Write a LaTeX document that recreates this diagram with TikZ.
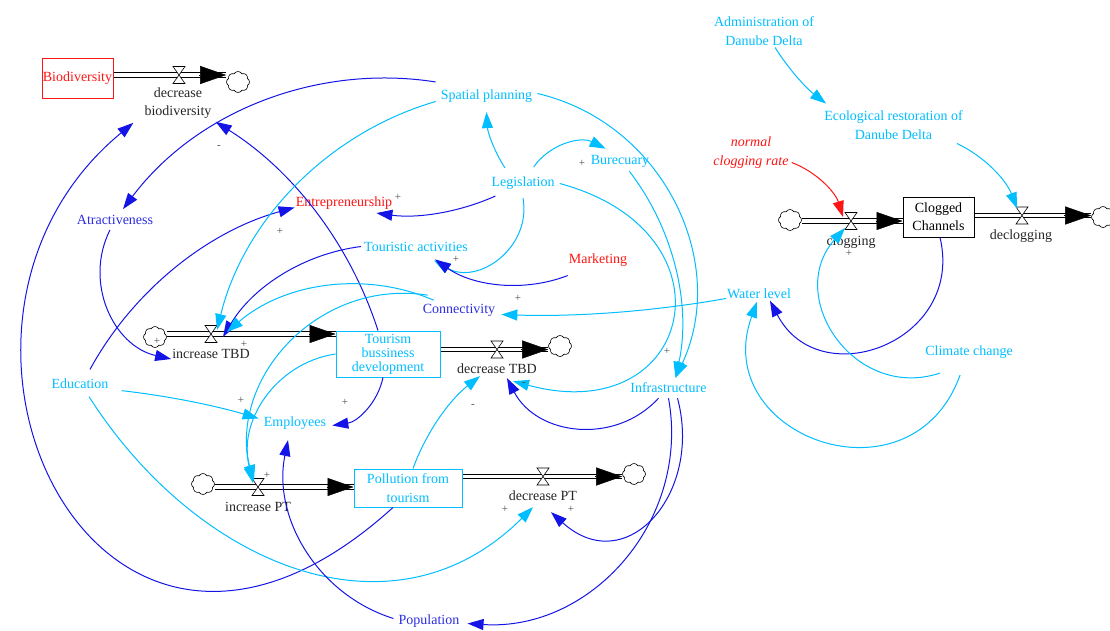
\documentclass[tikz,border=0pt]{standalone}
\usepackage{fontspec}
\setmainfont{Liberation Serif}
\usetikzlibrary{arrows.meta,shapes.symbols,calc}
\definecolor{vcyan}{RGB}{0,190,255}
\definecolor{vblue}{RGB}{20,20,230}
\definecolor{vtblue}{RGB}{45,45,225}
\definecolor{vred}{RGB}{255,20,20}
\pgfdeclarelayer{back}
\pgfdeclarelayer{bg}
\pgfsetlayers{back,bg,main}
\begin{document}
\begin{tikzpicture}[x=1pt,y=1pt,
  lab/.style={font=\fontsize{14}{18.5}\selectfont, inner sep=1pt, align=center},
  cyanlab/.style={lab, text=vcyan},
  bluelab/.style={lab, text=vtblue},
  redlab/.style={lab, text=vred},
  flowlab/.style={lab, text=black!85},
  stockbox/.style={draw, fill=white, line width=0.9, inner sep=0, align=center, font=\fontsize{14}{18.5}\selectfont},
  cloudy/.style={cloud, cloud puffs=8, cloud puff arc=120, aspect=1.1, draw, line width=0.6, minimum width=23, minimum height=21, inner sep=0, fill=white},
  pipe/.style={draw=black, line width=0.9, double=white, double distance=3.8},
  pipetip/.style={line width=0.4, -{Triangle[length=26pt,width=18pt]}},
  lk/.style={line width=1, -{Triangle[length=16pt,width=11pt]}},
  cy/.style={lk, draw=vcyan},
  bl/.style={lk, draw=vblue},
  rd/.style={lk, draw=vred},
  pol/.style={font=\fontsize{11}{11}\selectfont, text=black!70, inner sep=0},
  valve/.pic={\draw[fill=white, line width=0.6] (-6,8.5) -- (6,8.5) -- (-6,-8.5) -- (6,-8.5) -- cycle;}
]
\path[use as bounding box] (0,0) rectangle (1110,-630);
\begin{pgfonlayer}{back}
\fill[white] (0,0) rectangle (1110,-630);
\end{pgfonlayer}

% stocks
\node[stockbox, draw=vred, text=vred, minimum width=71, minimum height=40] (bio) at (77.5,-78) {Biodiversity};
\node[stockbox, draw=vcyan, text=vcyan, minimum width=104, minimum height=46, font=\fontsize{14}{14}\selectfont] (tbd) at (388,-354) {Tourism\\bussiness\\development};
\node[stockbox, draw=vcyan, text=vcyan, minimum width=108, minimum height=38] (pt) at (408,-488) {Pollution from\\tourism};
\node[stockbox, minimum width=71, minimum height=40, font=\fontsize{14}{18}\selectfont] (cc) at (938.5,-217) {Clogged\\Channels};

% valves and clouds
\coordinate (vbio) at (179,-75);
\node[cloudy] (cbio) at (238,-82) {};
\coordinate (vitbd) at (211,-334);
\node[cloudy] (citbd) at (155,-337) {};
\coordinate (vdtbd) at (497,-349.5);
\node[cloudy] (cdtbd) at (560,-346) {};
\coordinate (vipt) at (258,-487);
\node[cloudy] (cipt) at (203,-484) {};
\coordinate (vdpt) at (543,-476.5);
\node[cloudy] (cdpt) at (634,-474) {};
\coordinate (vclog) at (851,-221);
\node[cloudy] (cclog) at (790,-220) {};
\coordinate (vdeclog) at (1022,-215.5);
\node[cloudy] (cdeclog) at (1103,-217) {};

% variables
\node[cyanlab] (spatial) at (486.5,-96.5) {Spatial planning};
\node[cyanlab] (leg) at (523,-183.5) {Legislation};
\node[cyanlab] (bur) at (620,-161) {Burecuary};
\node[redlab] (entre) at (344,-203.5) {Entrepreneurship};
\node[cyanlab] (tour) at (416,-246.5) {Touristic activities};
\node[redlab] (mkt) at (598,-260) {Marketing};
\node[bluelab] (conn) at (459,-310.5) {Connectivity};
\node[bluelab] (atr) at (115,-220) {Atractiveness};
\node[cyanlab] (edu) at (80,-383.5) {Education};
\node[cyanlab] (emp) at (295,-423.5) {Employees};
\node[cyanlab] (infra) at (668.5,-388) {Infrastructure};
\node[cyanlab] (water) at (759,-293.5) {Water level};
\node[cyanlab] (climate) at (969,-352.5) {Climate change};
\node[cyanlab] (admin) at (764,-31) {Administration of\\Danube Delta};
\node[cyanlab] (eco) at (893.5,-125) {Ecological restoration of\\Danube Delta};
\node[redlab, font=\fontsize{14}{18.5}\selectfont\itshape] (ncr) at (751,-152.5) {normal\\clogging rate};
\node[bluelab] (pop) at (429,-621.5) {Population};

% flow labels
\node[flowlab] (lbio) at (178,-103) {decrease\\biodiversity};
\node[flowlab] (lit) at (211,-354) {increase TBD};
\node[flowlab] (ldt) at (497,-369) {decrease TBD};
\node[flowlab] (lip) at (258,-507) {increase PT};
\node[flowlab] (ldp) at (543,-496) {decrease PT};
\node[flowlab] (lclog) at (851,-242) {clogging};
\node[flowlab] (ldeclog) at (1021,-236) {declogging};

% pipes
\begin{pgfonlayer}{bg}
\draw[pipe] (bio.east |- vbio) -- (cbio.west |- vbio);
\draw[pipetip] ($(cbio.west |- vbio)+(-27,0)$) -- (cbio.west |- vbio);
\draw[pipe] (citbd.east |- vitbd) -- (tbd.west |- vitbd);
\draw[pipetip] ($(tbd.west |- vitbd)+(-27,0)$) -- (tbd.west |- vitbd);
\draw[pipe] (tbd.east |- vdtbd) -- (cdtbd.west |- vdtbd);
\draw[pipetip] ($(cdtbd.west |- vdtbd)+(-27,0)$) -- (cdtbd.west |- vdtbd);
\draw[pipe] (cipt.east |- vipt) -- (pt.west |- vipt);
\draw[pipetip] ($(pt.west |- vipt)+(-27,0)$) -- (pt.west |- vipt);
\draw[pipe] (pt.east |- vdpt) -- (cdpt.west |- vdpt);
\draw[pipetip] ($(cdpt.west |- vdpt)+(-27,0)$) -- (cdpt.west |- vdpt);
\draw[pipe] (cclog.east |- vclog) -- (cc.west |- vclog);
\draw[pipetip] ($(cc.west |- vclog)+(-27,0)$) -- (cc.west |- vclog);
\draw[pipe] (cc.east |- vdeclog) -- (cdeclog.west |- vdeclog);
\draw[pipetip] ($(cdeclog.west |- vdeclog)+(-27,0)$) -- (cdeclog.west |- vdeclog);
\pic at (vbio) {valve};
\pic at (vitbd) {valve};
\pic at (vdtbd) {valve};
\pic at (vipt) {valve};
\pic at (vdpt) {valve};
\pic at (vclog) {valve};
\pic at (vdeclog) {valve};
\end{pgfonlayer}

% causal links
\draw[bl] ([xshift=-10]tbd.north) to[bend right=20, looseness=0.88] ([xshift=3,yshift=-2]lbio.south east);
\draw[bl] ([xshift=-15]pt.south) .. controls (95,-778) and (-112,-325) .. ([xshift=-10,yshift=-3]lbio.south west);
\draw[bl] ([xshift=10,yshift=8]edu.north) to[bend left=23, looseness=0.88] ([yshift=-4]entre.west);
\draw[bl] ([xshift=5,yshift=-5]leg.south west) to[bend left=16, looseness=0.87] ([xshift=-17,yshift=-2]entre.south east);
\draw[cy] ([xshift=-18,yshift=8]leg.north) to[bend left=15, looseness=0.86] ([yshift=-8]spatial.south);
\draw[cy] ([xshift=-22,yshift=9]leg.north east) to[bend left=41, looseness=0.97] ([xshift=16,yshift=5]bur.north west);
\draw[cy] ([yshift=-7]leg.south) to[bend left=65, looseness=1.19] ([xshift=18,yshift=-8]tour.south);
\draw[bl] ([yshift=-8]mkt.south west) to[bend left=28, looseness=0.9] ([xshift=19,yshift=-7]tour.south);
\draw[cy] ([xshift=4]leg.east) .. controls (740,-232) and (694,-430) .. ([xshift=16,yshift=-6]ldt.south);
\draw[cy] ([xshift=-21,yshift=-3]bur.south east) to[bend left=25, looseness=0.89] ([xshift=7,yshift=4]infra.north);
\draw[cy] ([xshift=4,yshift=3]spatial.east) to[bend left=51, looseness=1.04] ([xshift=7,yshift=4]infra.north);
\draw[bl] ([xshift=-10,yshift=-4]infra.south) to[bend left=55, looseness=1.08] ([xshift=10,yshift=-3]ldt.south);
\draw[bl] ([yshift=-4]infra.south) to[bend left=52, looseness=1.05] ([xshift=7,yshift=-2]pop.east);
\draw[bl] ([xshift=9,yshift=-4]infra.south) .. controls (703,-494) and (626,-580) .. ([xshift=8,yshift=-10]ldp.south);
\draw[cy] ([xshift=9,yshift=-7]edu.south) .. controls (197,-566) and (393,-647) .. ([xshift=-10,yshift=-5]ldp.south);
\draw[cy] ([xshift=12,yshift=-1]edu.south east) to[bend left=5, looseness=0.85] ([xshift=-4,yshift=5]emp.west);
\draw[bl] ([xshift=-5,yshift=-4]atr.south) to[bend right=52, looseness=1.06] ([yshift=-5]lit.west);
\draw[bl] ([xshift=-4,yshift=7]spatial.north west) to[bend right=31, looseness=0.92] ([xshift=8,yshift=5]atr.north);
\draw[cy] ([xshift=-4,yshift=-5]spatial.west) to[bend right=30, looseness=0.91] ([xshift=6,yshift=4]vitbd);
\draw[bl] ([xshift=-2]tour.west) to[bend right=26, looseness=0.9] ([xshift=12,yshift=-3]vitbd);
\draw[cy] ([xshift=12,yshift=3]conn.north west) to[bend right=32, looseness=0.92] ([xshift=16,yshift=2]vitbd);
\draw[cy] ([xshift=6,yshift=8]conn.north west) to[bend right=56, looseness=1.09] ([xshift=-5,yshift=4]vipt);
\draw[cy] (tbd.west) to[bend right=49, looseness=1.03] ([xshift=-4,yshift=6]vipt);
\draw[cy] ([yshift=-5]water.west) to[bend left=6, looseness=0.85] ([xshift=5,yshift=-4]conn.east);
\draw[bl] ([xshift=-5]tbd.south) to[bend left=35, looseness=0.94] ([xshift=5,yshift=-2]emp.east);
\draw[bl] ([xshift=-4,yshift=3]pop.west) to[bend left=42, looseness=0.98] ([xshift=-7,yshift=-9]emp.south);
\draw[cy] ([xshift=5]pt.north) to[bend left=16, looseness=0.87] ([xshift=-17,yshift=-1]ldt.south);
\draw[bl] ([xshift=1.5]cc.south) to[bend left=83, looseness=1.51] ([xshift=11,yshift=-1]water.south);
\draw[cy] ([xshift=16,yshift=-13]climate.south west) to[bend left=75, looseness=1.34] ([xshift=-6,yshift=-7]vclog);
\draw[cy] ([xshift=36,yshift=-15]climate.south west) to[bend left=90, looseness=1.7] ([xshift=-2,yshift=-2]water.south);
\draw[rd] ([xshift=2,yshift=-10]ncr.east) to[bend left=26, looseness=0.9] ([xshift=-8,yshift=4]vclog);
\draw[cy] ([xshift=11,yshift=-1]admin.south) to[bend right=10, looseness=0.86] ([xshift=3,yshift=6]eco.north west);
\draw[cy] ([xshift=-7,yshift=-3]eco.south east) to[bend left=22, looseness=0.88] ([xshift=-5,yshift=7]vdeclog);

% polarities
\node[pol] (s1) at (219,-147) {-};
\node[pol] (s2) at (398,-197) {+};
\node[pol] (s3) at (582,-163) {+};
\node[pol] (s4) at (280,-231) {+};
\node[pol] (s5) at (456,-259) {+};
\node[pol] (s6) at (518,-298) {+};
\node[pol] (s7) at (157,-341) {+};
\node[pol] (s8) at (244,-344) {+};
\node[pol] (s9) at (241,-400) {+};
\node[pol] (s10) at (345,-402) {+};
\node[pol] (s11) at (473,-406) {-};
\node[pol] (s12) at (524,-384) {-};
\node[pol] (s13) at (667,-351) {+};
\node[pol] (s14) at (267,-475) {+};
\node[pol] (s15) at (505,-509) {+};
\node[pol] (s16) at (571,-509) {+};
\node[pol] (s17) at (849,-253) {+};
\end{tikzpicture}
\end{document}
